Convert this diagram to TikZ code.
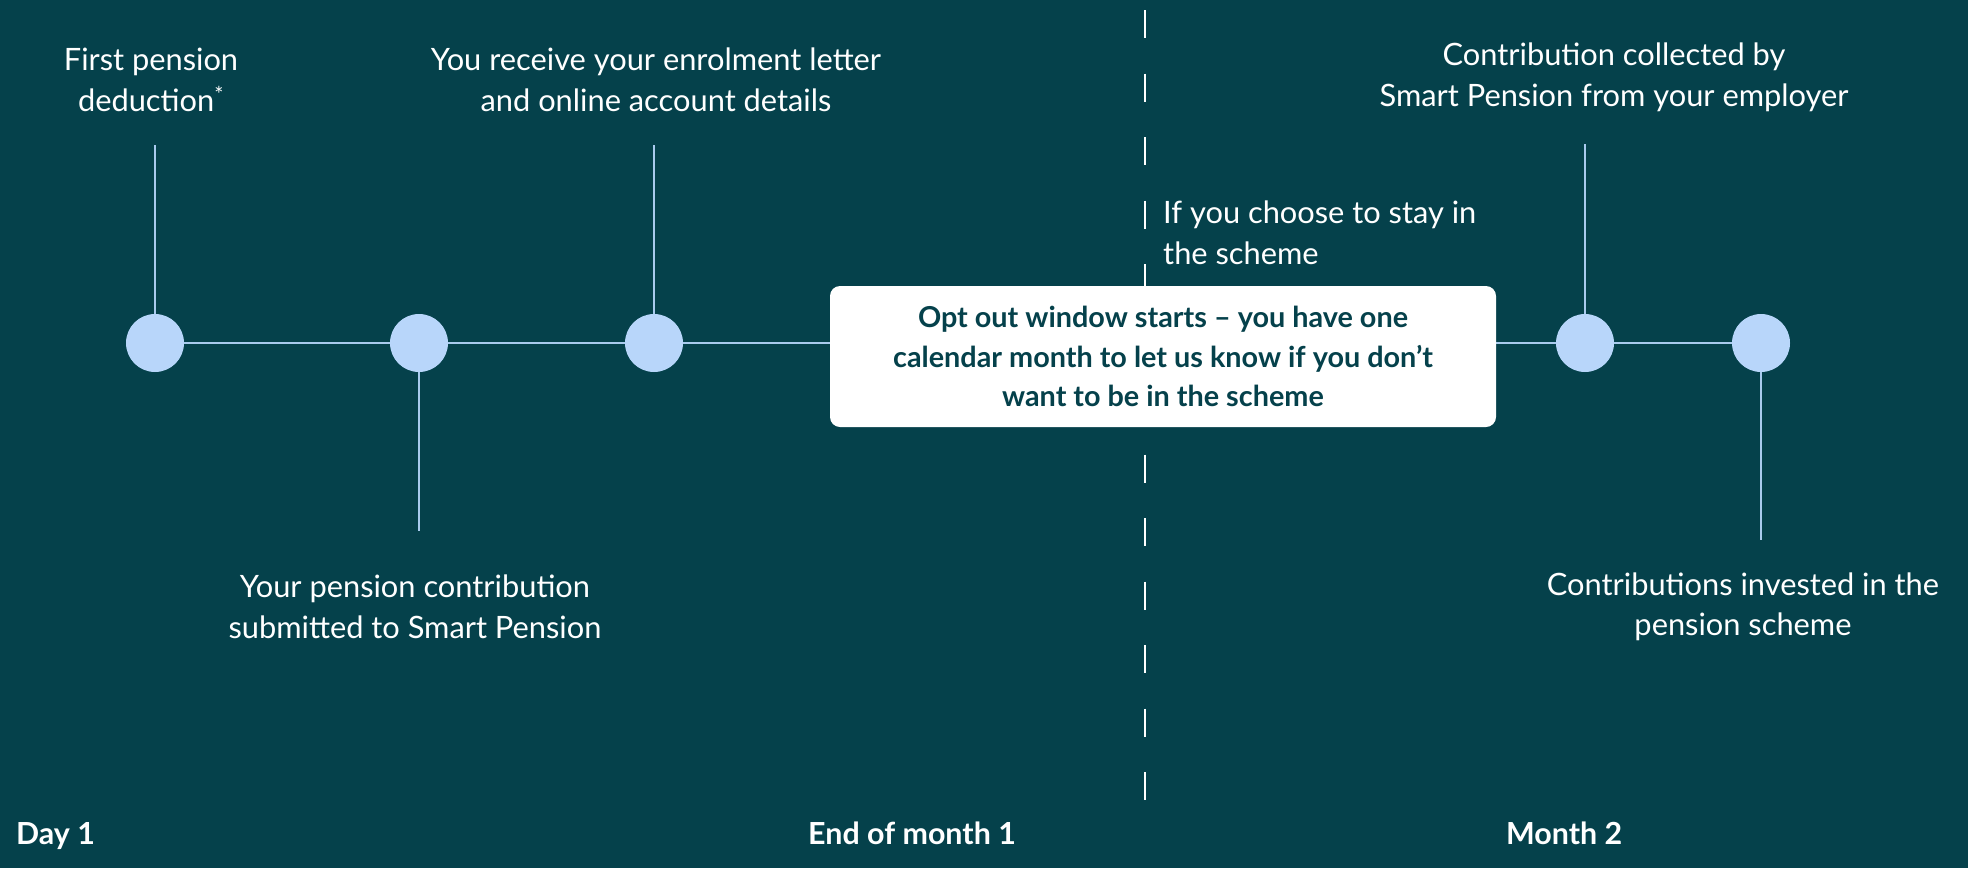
\documentclass[tikz,border=0pt]{standalone}
\usepackage{fontspec}
\setmainfont{Lato}
\usepackage{tikz}
\usetikzlibrary{positioning}

\definecolor{teal}{HTML}{05414B}
\definecolor{dot}{HTML}{B8D6FA}
\definecolor{wire}{HTML}{A9CBEE}

\begin{document}
\begin{tikzpicture}[x=1pt,y=-1pt,%
    milestone/.style={%
        circle,
        fill=dot,
        inner sep=0pt,
        minimum size=58pt
    },
    caption/.style={%
        text=white,
        align=center,
        inner sep=0pt,
        font=\fontsize{30.8}{40.5}\selectfont
    },
    optbox/.style={%
        fill=white,
        rounded corners=10pt,
        minimum width=666pt,
        minimum height=141pt,
        align=center,
        text=teal,
        font=\fontsize{28.8}{39.5}\selectfont\bfseries
    },
    period/.style={%
        text=white,
        inner sep=0pt,
        anchor=base west,
        font=\fontsize{30.4}{34}\selectfont\bfseries
    },
    stem/.style={%
        draw=wire,
        line width=2pt
    },
    divider/.style={%
        draw=white,
        line width=2.5pt,
        dash pattern=on 28pt off 35.5pt
    }
]

% Background
    \fill[teal] (0,0) rectangle (1968,868);
    \useasboundingbox (0,0) rectangle (1968,868);

% Milestones
    \node[milestone] (dot1) at (155,343) {};
    \node[milestone] (dot2) at (419,343) {};
    \node[milestone] (dot3) at (654,343) {};
    \node[milestone] (dot4) at (1585,343) {};
    \node[milestone] (dot5) at (1761,343) {};

% Stem ends
    \coordinate (end1) at (155,145);
    \coordinate (end2) at (419,531);
    \coordinate (end3) at (654,145);
    \coordinate (end4) at (1585,144);
    \coordinate (end5) at (1761,540);

% Captions
    \node[caption] (cap1) at (151,80) {First pension\\deduction\textsuperscript{*}};
    \node[caption] (cap2) at (415,607) {Your pension contribution\\submitted to Smart Pension};
    \node[caption] (cap3) at (656,80) {You receive your enrolment letter\\and online account details};
    \node[caption] (cap4) at (1614,77.5) {Contribution collected by\\Smart Pension from your employer};
    \node[caption] (cap5) at (1743,607) {Contributions invested in the\\pension scheme};
    \node[caption, anchor=west, align=left] (stay) at (1163,233) {If you choose to stay in\\the scheme};

% Divider ends
    \coordinate (top) at (1145,10);
    \coordinate (bottom) at (1145,818);

% Periods
    \node[period] (day1) at (16,844) {Day 1};
    \node[period] (month1) at (808,844) {End of month 1};
    \node[period] (month2) at (1506,844) {Month 2};

% Lines
\draw[stem] (dot1) -- (dot2) -- (dot3) -- (dot4) -- (dot5);
\draw[stem] (dot1) -- (end1);
\draw[stem] (dot2) -- (end2);
\draw[stem] (dot3) -- (end3);
\draw[stem] (dot4) -- (end4);
\draw[stem] (dot5) -- (end5);
\draw[divider] (top) -- (bottom);

% Opt out window
    \node[optbox] (window) at (1163,356.5) {Opt out window starts – you have one\\calendar month to let us know if you don’t\\want to be in the scheme};

\end{tikzpicture}
\end{document}
